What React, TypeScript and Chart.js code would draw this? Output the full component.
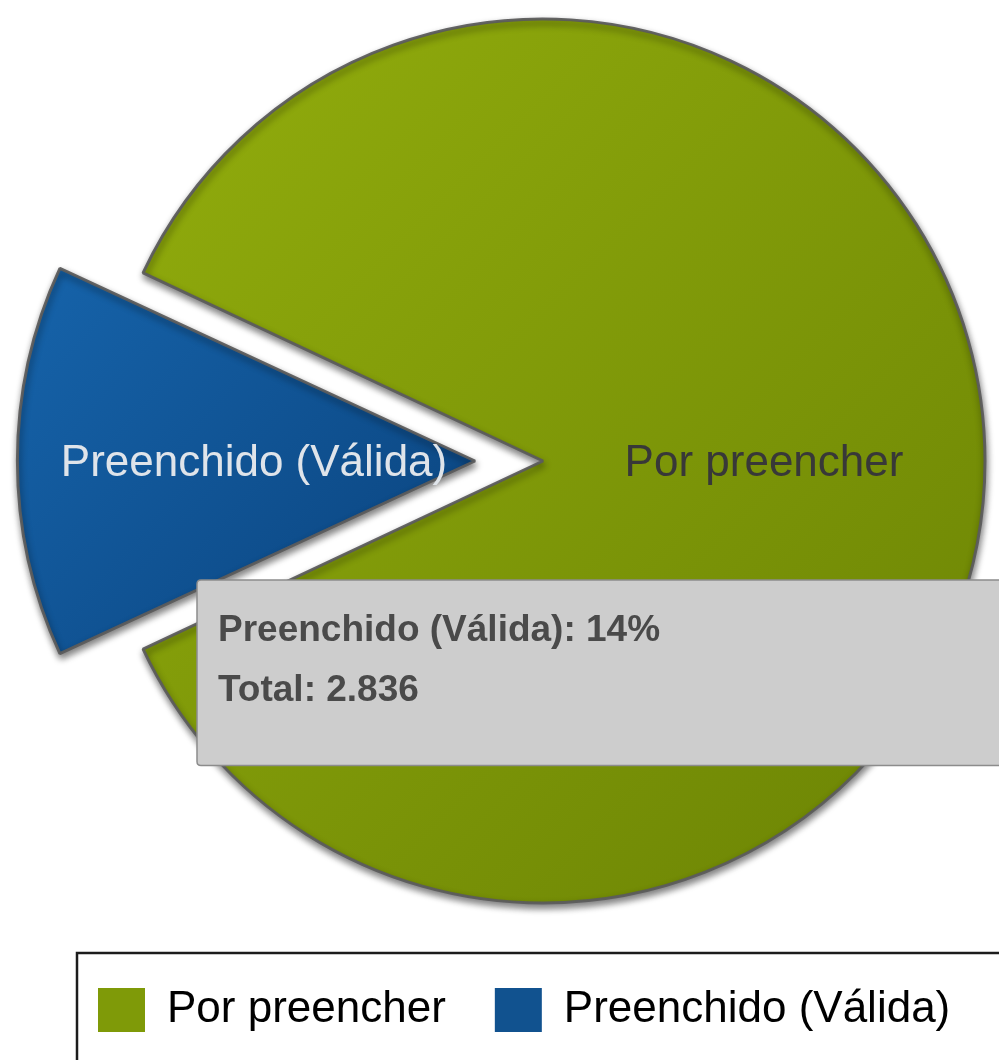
import React, { useEffect, useRef } from 'react';
import { Chart, registerables, Tooltip } from 'chart.js';

Chart.register(...registerables);

// ---- data ----
const categories = ['Por preencher', 'Preenchido (Válida)'];
const percentValues = [86, 14];
const explodeDistance = [0, 68];
const totalResponses = 2836;
const legendFill = ['#7f9a08', '#11528f'];
const sliceGradients = [
  ['#93ae0d', '#6b8304'],
  ['#1766ae', '#0b4580'],
];
const labelColors = ['#383838', '#dfe4ea'];

const PIE_RADIUS = 442;
const OFFSET_SCALE = 4; // chart.js arc draws options.offset / 4
const CW = 1200;
const CH = 1110;
const OFFY = -17;

const formatThousands = (n: number) => String(n).replace(/\B(?=(\d{3})+(?!\d))/g, '.');

(Tooltip as any).positioners.fixedBox = function () {
  return { x: 201, y: 597 };
};

const decorPlugin = {
  id: 'pieDecor',
  beforeDatasetsDraw(chart: any) {
    const ctx = chart.ctx;
    ctx.save();
    ctx.shadowColor = 'rgba(0,0,0,0.5)';
    ctx.shadowBlur = 7;
    ctx.shadowOffsetX = 1;
    ctx.shadowOffsetY = 4;
  },
  afterDatasetsDraw(chart: any) {
    const ctx = chart.ctx;
    ctx.restore();
    const meta = chart.getDatasetMeta(0);
    meta.data.forEach((arc: any, i: number) => {
      const p = arc.getProps(['x', 'y', 'startAngle', 'endAngle', 'outerRadius'], true);
      const mid = (p.startAngle + p.endAngle) / 2;
      const d = p.outerRadius * 0.5 + explodeDistance[i];
      ctx.save();
      ctx.font = '44px "Liberation Sans", Arial, sans-serif';
      ctx.textAlign = 'center';
      ctx.textBaseline = 'middle';
      ctx.fillStyle = labelColors[i];
      ctx.fillText(categories[i], p.x + Math.cos(mid) * d, p.y + Math.sin(mid) * d + 3);
      ctx.restore();
    });
    const lg = chart.legend;
    ctx.save();
    ctx.strokeStyle = '#1c1c1c';
    ctx.lineWidth = 2.5;
    ctx.strokeRect(lg.left + 28, lg.top + 14, CW, 400);
    ctx.restore();
  },
};

export default function App() {
  const ref = useRef<HTMLCanvasElement | null>(null);

  useEffect(() => {
    const canvas = ref.current;
    if (!canvas) return;
    const chart = new Chart(canvas, {
      type: 'pie',
      data: {
        labels: categories,
        datasets: [
          {
            data: percentValues,
            radius: PIE_RADIUS,
            offset: explodeDistance.map((v) => v * OFFSET_SCALE),
            hoverOffset: 0,
            borderWidth: 3,
            borderColor: 'rgba(92,92,92,0.95)',
            backgroundColor: (c: any) => {
              const chartRef = c.chart;
              const area = chartRef.chartArea;
              const i = c.dataIndex;
              if (!area) return legendFill[i];
              const cx = (area.left + area.right) / 2;
              const cy = (area.top + area.bottom) / 2;
              const r = PIE_RADIUS;
              let g;
              if (i === 0) {
                g = chartRef.ctx.createLinearGradient(cx - r, cy - r, cx + r, cy + r);
              } else {
                const off = explodeDistance[i];
                g = chartRef.ctx.createLinearGradient(cx - r - off, cy - r * 0.45, cx - off, cy + r * 0.45);
              }
              g.addColorStop(0, sliceGradients[i][0]);
              g.addColorStop(1, sliceGradients[i][1]);
              return g;
            },
          } as any,
        ],
      },
      options: {
        responsive: false,
        animation: false,
        devicePixelRatio: 1,
        events: [],
        rotation: -64.8,
        layout: { padding: { left: 49, right: 163, top: 0, bottom: 51 } },
        plugins: {
          legend: {
            position: 'bottom',
            align: 'start',
            labels: {
              boxWidth: 47,
              boxHeight: 44,
              padding: 49,
              color: '#111111',
              font: { family: '"Liberation Sans", Arial, sans-serif', size: 44 },
              generateLabels: () =>
                categories.map((t, i) => ({
                  text: t,
                  fillStyle: legendFill[i],
                  strokeStyle: legendFill[i],
                  lineWidth: 0,
                  hidden: false,
                  index: i,
                  datasetIndex: 0,
                })),
            },
          },
          tooltip: {
            enabled: true,
            position: 'fixedBox' as any,
            xAlign: 'left',
            yAlign: 'top',
            caretSize: 0,
            caretPadding: 0,
            cornerRadius: 4,
            backgroundColor: '#cdcdcd',
            borderColor: '#8c8c8c',
            borderWidth: 1.5,
            bodyColor: '#4a4a4a',
            bodyFont: { family: '"Liberation Sans", Arial, sans-serif', size: 37, weight: 'bold', lineHeight: 1.2 },
            bodySpacing: 15.6,
            padding: { top: 29, left: 21, right: 400, bottom: 52 },
            displayColors: false,
            callbacks: {
              title: () => '',
              label: (ctx: any) => [
                `${ctx.label}: ${ctx.raw}%`,
                `Total: ${formatThousands(totalResponses)}`,
              ],
            },
          },
        },
      },
      plugins: [decorPlugin],
    } as any);

    chart.tooltip!.setActiveElements([{ datasetIndex: 0, index: 1 }], { x: 0, y: 0 });
    chart.update();

    return () => chart.destroy();
  }, []);

  return (
    <div
      style={{
        position: 'fixed',
        left: 0,
        top: 0,
        width: 999,
        height: 1060,
        overflow: 'hidden',
        background: '#ffffff',
      }}
    >
      <canvas
        ref={ref}
        width={CW}
        height={CH}
        style={{ position: 'absolute', left: 0, top: OFFY, width: CW, height: CH }}
      />
    </div>
  );
}
